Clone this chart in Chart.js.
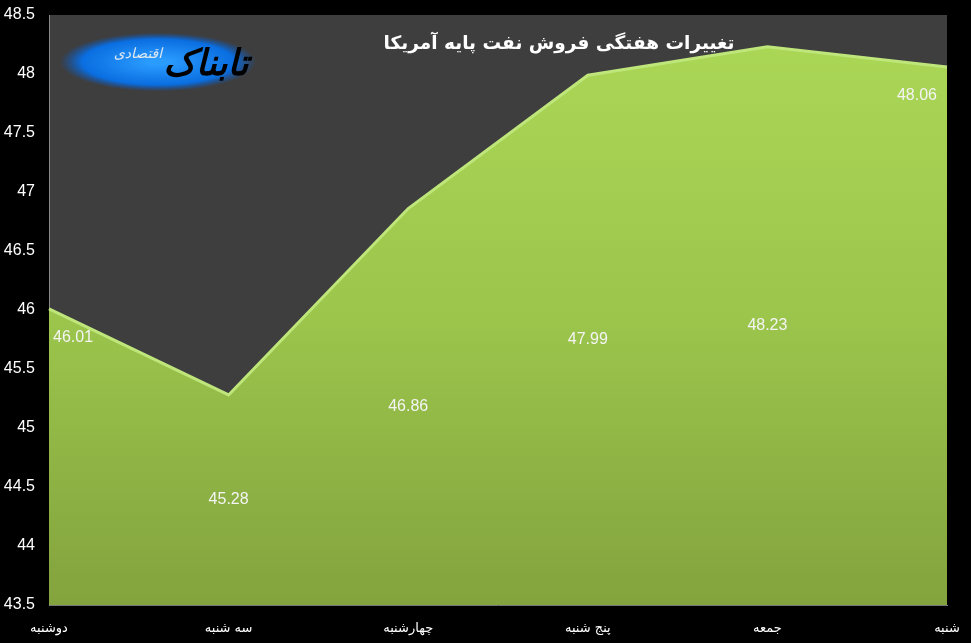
<!DOCTYPE html>
<html>
<head>
<meta charset="utf-8">
<script src="https://cdn.jsdelivr.net/npm/chart.js@4"></script>
<style>
  html, body { margin: 0; padding: 0; background: #000; }
  #wrap { width: 971px; height: 643px; }
</style>
</head>
<body>
<div id="wrap"><canvas id="c" width="971" height="643"></canvas></div>
<script>
'use strict';

// ── Data ──────────────────────────────────────────────────
const days   = ['دوشنبه', 'سه شنبه', 'چهارشنبه', 'پنج شنبه', 'جمعه', 'شنبه'];
const prices = [46.01, 45.28, 46.86, 47.99, 48.23, 48.06];
const title  = 'تغییرات هفتگی فروش نفت پایه آمریکا';
const yMin = 43.5, yMax = 48.5, yStep = 0.5;

const FONT = '"DejaVu Sans", Tahoma, sans-serif';
const NUM  = '"Liberation Sans", Arial, sans-serif';

// ── Plugins ───────────────────────────────────────────────
const bgPlugin = {
  id: 'bg',
  beforeDraw(chart) {
    const { ctx, chartArea: a } = chart;
    ctx.save();
    ctx.fillStyle = '#000';
    ctx.fillRect(0, 0, chart.width, chart.height);
    ctx.fillStyle = '#3e3e3e';
    ctx.fillRect(a.left, a.top, a.right - a.left, a.bottom - a.top);
    ctx.restore();
  }
};

const decoPlugin = {
  id: 'deco',
  afterDatasetsDraw(chart) {
    const { ctx } = chart;
    const meta = chart.getDatasetMeta(0);
    const ys   = chart.scales.y;
    ctx.save();

    // value labels — middle of the area for inner points, under the point at the edges
    ctx.fillStyle = '#f4f4f4';
    ctx.font = '16px ' + NUM;
    ctx.textBaseline = 'middle';
    meta.data.forEach((pt, i) => {
      const last = meta.data.length - 1;
      let x = pt.x, y = (pt.y + ys.bottom) / 2;
      ctx.textAlign = 'center';
      if (i === 0)    { x = pt.x + 4;  y = pt.y + 29; ctx.textAlign = 'left'; }
      if (i === last) { x = pt.x - 10; y = pt.y + 29; ctx.textAlign = 'right'; }
      ctx.fillText(prices[i].toFixed(2), x, y);
    });

    // logo
    const cx = 158, cy = 62;
    ctx.save();
    ctx.translate(cx, cy);
    ctx.scale(1, 0.3);
    const g = ctx.createRadialGradient(0, 0, 10, 0, 0, 98);
    g.addColorStop(0, '#2a9bff');
    g.addColorStop(0.75, '#0a6ee0');
    g.addColorStop(1, 'rgba(10,90,200,0)');
    ctx.fillStyle = g;
    ctx.beginPath();
    ctx.arc(0, 0, 98, 0, Math.PI * 2);
    ctx.fill();
    ctx.restore();

    ctx.textAlign = 'center';
    ctx.fillStyle = '#000';
    ctx.font = 'italic bold 36px ' + FONT;
    ctx.fillText('تابناک', cx + 48, cy + 4);
    ctx.fillStyle = '#dfe8f0';
    ctx.font = 'italic 14px ' + FONT;
    ctx.fillText('اقتصادی', cx - 20, cy - 8);

    // title
    ctx.fillStyle = '#fff';
    ctx.font = 'bold 18.5px ' + FONT;
    ctx.fillText(title, 559, 44);
    ctx.restore();
  }
};

// ── Chart ─────────────────────────────────────────────────
new Chart(document.getElementById('c'), {
  type: 'line',
  data: {
    labels: days,
    datasets: [{
      data: prices,
      fill: 'start',
      tension: 0,
      borderColor: '#bfe67a',
      borderWidth: 3,
      pointRadius: 0,
      backgroundColor: (c) => {
        const a = c.chart.chartArea;
        if (!a) return '#98c24a';
        const g = c.chart.ctx.createLinearGradient(0, a.top, 0, a.bottom);
        g.addColorStop(0, '#acd857');
        g.addColorStop(0.5, '#9cc64c');
        g.addColorStop(1, '#83a33e');
        return g;
      }
    }]
  },
  options: {
    responsive: false,
    animation: false,
    layout: { padding: { top: 15, right: 24, left: 0, bottom: 0 } },
    plugins: { legend: { display: false }, tooltip: { enabled: false } },
    scales: {
      x: {
        offset: false,
        grid: { display: false, drawTicks: false },
        border: { display: true, color: '#777', width: 1 },
        ticks: { color: '#fff', font: { family: FONT, size: 13 }, padding: 16, maxRotation: 0, autoSkip: false },
        afterFit: (s) => { s.height = 38; s.paddingLeft = 0; s.paddingRight = 0; }
      },
      y: {
        min: yMin, max: yMax,
        grid: { display: false, drawTicks: false },
        border: { display: true, color: '#888', width: 1 },
        ticks: {
          stepSize: yStep, color: '#fff', padding: 14,
          font: { family: NUM, size: 16 },
          callback: v => String(+v.toFixed(1))
        },
        afterFit: (s) => { s.width = 49; s.paddingTop = 0; s.paddingBottom = 0; }
      }
    }
  },
  plugins: [bgPlugin, decoPlugin]
});
</script>
</body>
</html>
